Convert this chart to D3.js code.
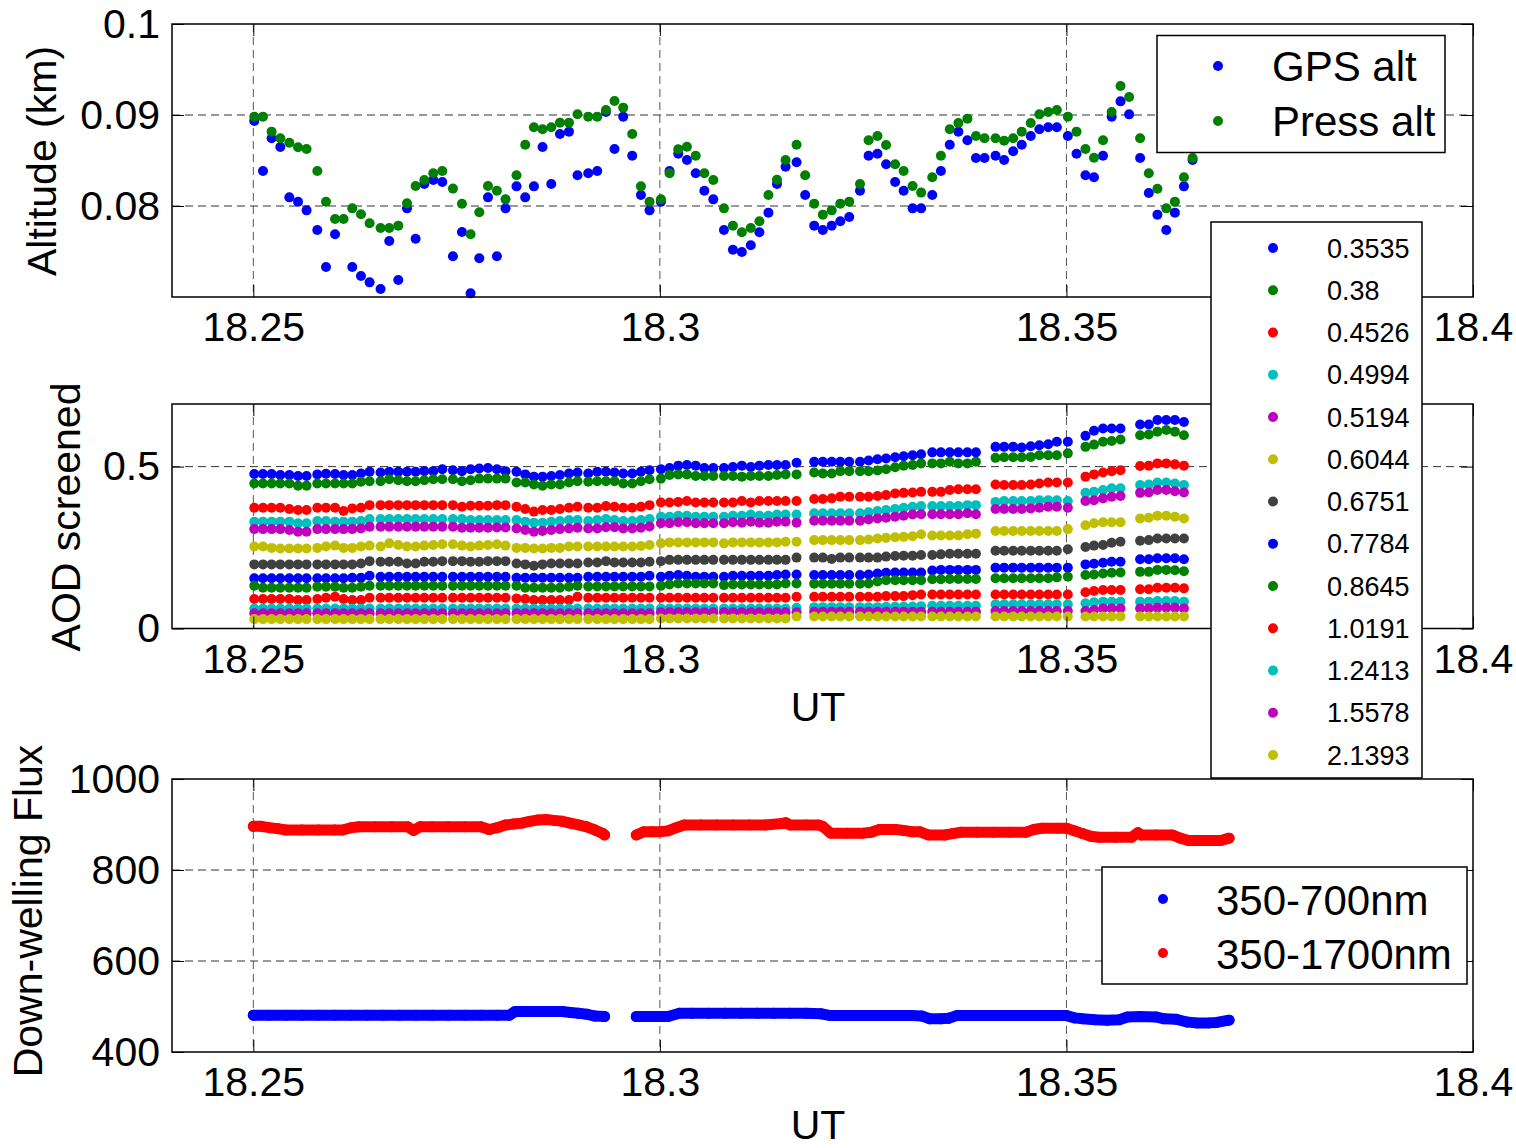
<!DOCTYPE html>
<html>
<head>
<meta charset="utf-8">
<script src="https://cdn.jsdelivr.net/npm/d3@7"></script>
<style>
  body { margin: 0; background: #fff; }
  svg { display: block; font-family: "Liberation Sans", Arial, Helvetica, sans-serif; }
</style>
</head>
<body>
<script>
// ---- data (UT in decimal hours) ----
const utTicks = [18.25, 18.3, 18.35, 18.4];
const altTicks = [0.08, 0.09, 0.1];
const aodTicks = [0, 0.5];
const fluxTicks = [400, 600, 800, 1000];

const utTimes = [
  18.25012, 18.25119, 18.25225, 18.25332, 18.25443, 18.25550, 18.25655,
  18.25787, 18.25894, 18.26005, 18.26110, 18.26217, 18.26324, 18.26430,
  18.26565, 18.26672, 18.26783, 18.26890, 18.26996, 18.27103, 18.27213, 18.27324,
  18.27455, 18.27566, 18.27672, 18.27779, 18.27886, 18.27996, 18.28102,
  18.28237, 18.28344, 18.28451, 18.28557, 18.28664, 18.28771, 18.28882, 18.28987,
  18.29119, 18.29230, 18.29337, 18.29442, 18.29549, 18.29660, 18.29767, 18.29873,
  18.30013, 18.30119, 18.30226, 18.30333, 18.30441, 18.30547, 18.30657,
  18.30788, 18.30898, 18.31008, 18.31118, 18.31224, 18.31335, 18.31440, 18.31546,
  18.31681, 18.31787, 18.31898, 18.32004, 18.32113, 18.32219, 18.32329,
  18.32461, 18.32567, 18.32676, 18.32782, 18.32893, 18.32998, 18.33108, 18.33213,
  18.33350, 18.33456, 18.33565, 18.33671, 18.33782, 18.33887, 18.33993,
  18.34128, 18.34234, 18.34345, 18.34450, 18.34561, 18.34667, 18.34776, 18.34882,
  18.35017, 18.35124, 18.35234, 18.35339, 18.35450, 18.35556, 18.35665, 18.35771,
  18.35906, 18.36013, 18.36119, 18.36228, 18.36334, 18.36445, 18.36551
];

const gpsAlt = [
  0.08934, 0.08385, 0.08744, 0.08648, 0.08095, 0.08047, 0.07952,
  0.07736, 0.07330, 0.07689, 0.06950, 0.07330, 0.07231, 0.07161,
  0.07088, 0.07615, 0.07187, 0.07974, 0.07641, 0.08242, 0.08286, 0.08264,
  0.07447, 0.07714, 0.07040, 0.07425, 0.08095, 0.07447, 0.07974,
  0.08216, 0.08095, 0.08216, 0.08648, 0.08242, 0.08791, 0.08817, 0.08337,
  0.08359, 0.08385, 0.09033, 0.08626, 0.08982, 0.08553, 0.08121, 0.07952,
  0.08047, 0.08385, 0.08575, 0.08505, 0.08359, 0.08168, 0.08073,
  0.07736, 0.07520, 0.07495, 0.07568, 0.07711, 0.07927, 0.08242, 0.08432,
  0.08480, 0.08121, 0.07784, 0.07736, 0.07784, 0.07832, 0.07879,
  0.08168, 0.08553, 0.08575, 0.08458, 0.08264, 0.08168, 0.07974, 0.07974,
  0.08121, 0.08385, 0.08674, 0.08817, 0.08722, 0.08527, 0.08527,
  0.08553, 0.08505, 0.08601, 0.08674, 0.08769, 0.08843, 0.08865, 0.08865,
  0.08769, 0.08575, 0.08337, 0.08315, 0.08553, 0.08982, 0.09150, 0.09007,
  0.08527, 0.08143, 0.07905, 0.07736, 0.07927, 0.08216, 0.08505
];

const pressAlt = [
  0.08982, 0.08982, 0.08817, 0.08744, 0.08696, 0.08645, 0.08626,
  0.08385, 0.08047, 0.07857, 0.07857, 0.07974, 0.07909, 0.07810,
  0.07758, 0.07758, 0.07784, 0.08029, 0.08220, 0.08286, 0.08359, 0.08385,
  0.08191, 0.08025, 0.07689, 0.07931, 0.08220, 0.08168, 0.08073,
  0.08337, 0.08674, 0.08865, 0.08843, 0.08865, 0.08916, 0.08916, 0.09008,
  0.08982, 0.08982, 0.09055, 0.09154, 0.09081, 0.08791, 0.08216, 0.08047,
  0.08073, 0.08359, 0.08623, 0.08652, 0.08553, 0.08359, 0.08286,
  0.07974, 0.07784, 0.07711, 0.07758, 0.07832, 0.08121, 0.08289, 0.08505,
  0.08674, 0.08337, 0.08026, 0.07905, 0.07952, 0.08026, 0.08048,
  0.08242, 0.08722, 0.08769, 0.08670, 0.08458, 0.08385, 0.08220, 0.08147,
  0.08315, 0.08553, 0.08843, 0.08912, 0.08960, 0.08769, 0.08744,
  0.08744, 0.08718, 0.08744, 0.08817, 0.08912, 0.09007, 0.09033, 0.09055,
  0.08982, 0.08817, 0.08626, 0.08531, 0.08722, 0.09033, 0.09319, 0.09198,
  0.08744, 0.08359, 0.08190, 0.07974, 0.08048, 0.08315, 0.08527
];

// AOD screened, one array per wavelength (null = screened out)
const aod3535 = [
  0.477,0.477,0.477,0.474,0.474,0.471,0.471,
  0.476,0.478,0.477,0.474,0.474,0.479,0.484,
  0.482,0.484,0.484,0.484,0.484,0.486,0.486,0.492,
  0.489,0.486,0.492,0.494,0.496,0.492,0.486,
  0.484,0.476,0.469,0.469,0.471,0.474,0.479,0.482,
  0.479,0.484,0.484,0.482,0.479,0.479,0.484,0.489,
  0.492,0.496,0.503,0.505,0.503,0.496,0.496,
  0.496,0.499,0.503,0.499,0.503,0.505,0.505,0.505,
  0.512,null,0.515,0.515,0.515,0.515,0.515,
  0.515,0.519,0.523,0.525,0.529,0.532,0.535,0.538,
  0.544,0.544,0.544,0.544,0.544,0.544,null,
  0.561,0.561,0.561,0.559,0.563,0.566,0.569,0.577,
  0.577,null,0.595,0.611,0.618,0.618,0.618,null,
  0.630,0.630,0.644,0.644,0.644,0.638,null
];
const aod3800 = [
  0.448,0.448,0.448,0.448,0.448,0.441,0.441,
  0.448,0.448,0.448,0.448,0.448,0.453,0.455,
  0.455,0.461,0.458,0.455,0.455,0.458,0.461,0.461,
  0.461,0.455,0.458,0.463,0.463,0.463,0.463,
  0.451,0.451,0.445,0.441,0.445,0.445,0.451,0.455,
  0.453,0.455,0.455,0.455,0.448,0.448,0.455,0.461,
  0.463,0.474,0.476,0.476,0.471,0.471,0.471,
  0.471,0.471,0.469,0.471,0.471,0.471,0.474,0.476,
  0.476,null,0.482,0.479,0.479,0.486,0.486,
  0.486,0.486,0.488,0.492,0.498,0.503,0.505,0.510,
  0.510,0.510,0.515,0.510,0.510,0.515,null,
  0.527,0.529,0.529,0.529,0.530,0.535,0.535,0.535,
  0.541,null,0.561,0.568,0.577,0.579,0.584,null,
  0.597,0.599,0.608,0.613,0.608,0.597,null
];
const aod4526 = [
  0.373,0.373,0.373,0.373,0.369,0.366,0.366,
  0.373,0.373,0.373,0.363,0.371,0.373,0.381,
  0.381,0.381,0.381,0.381,0.381,0.381,0.381,0.381,
  0.381,0.376,0.379,0.379,0.379,0.381,0.381,
  0.376,0.369,0.361,0.366,0.366,0.369,0.373,0.376,
  0.373,0.373,0.378,0.376,0.373,0.373,0.376,0.381,
  0.389,0.389,0.391,0.394,0.389,0.389,0.389,
  0.389,0.389,0.394,0.389,0.394,0.394,0.394,0.394,
  0.394,null,0.400,0.400,0.402,0.407,0.407,
  0.407,0.407,0.409,0.412,0.417,0.419,0.420,0.422,
  0.422,0.422,0.428,0.430,0.430,0.430,null,
  0.445,0.443,0.443,0.443,0.445,0.448,0.451,0.451,
  0.451,null,0.469,0.476,0.482,0.486,0.489,null,
  0.502,0.503,0.510,0.510,0.507,0.503,null
];
const aod4994 = [
  0.330,0.330,0.330,0.330,0.330,0.325,0.325,
  0.332,0.332,0.330,0.330,0.330,0.332,0.338,
  0.338,0.338,0.338,0.338,0.338,0.338,0.338,0.338,
  0.338,0.338,0.335,0.335,0.335,0.335,0.335,
  0.335,0.330,0.327,0.327,0.330,0.332,0.335,0.335,
  0.332,0.335,0.338,0.335,0.332,0.332,0.335,0.338,
  0.345,0.345,0.348,0.348,0.345,0.345,0.345,
  0.345,0.348,0.348,0.352,0.348,0.348,0.352,0.352,
  0.352,null,0.356,0.356,0.356,0.356,0.356,
  0.356,0.359,0.363,0.366,0.369,0.373,0.376,0.378,
  0.378,0.378,0.378,0.378,0.381,0.381,null,
  0.391,0.394,0.394,0.394,0.394,0.396,0.396,0.396,
  0.394,null,0.419,0.422,0.428,0.433,0.433,null,
  0.443,0.445,0.451,0.451,0.448,0.443,null
];
const aod5194 = [
  0.307,0.307,0.307,0.307,0.304,0.299,0.299,
  0.307,0.307,0.307,0.307,0.307,0.309,0.314,
  0.314,0.314,0.314,0.314,0.314,0.314,0.314,0.314,
  0.314,0.311,0.311,0.311,0.311,0.312,0.312,
  0.309,0.304,0.299,0.301,0.304,0.307,0.309,0.311,
  0.309,0.309,0.313,0.313,0.309,0.309,0.311,0.315,
  0.325,0.325,0.328,0.328,0.325,0.325,0.325,
  0.325,0.328,0.327,0.330,0.327,0.327,0.330,0.330,
  0.327,null,0.333,0.333,0.333,0.333,0.333,
  0.333,0.337,0.340,0.342,0.345,0.348,0.352,0.353,
  0.353,0.353,0.353,0.353,0.356,0.353,null,
  0.369,0.369,0.369,0.369,0.371,0.373,0.376,0.376,
  0.373,null,0.394,0.396,0.402,0.407,0.409,null,
  0.419,0.420,0.428,0.428,0.424,0.420,null
];
const aod6044 = [
  0.253,0.253,0.249,0.247,0.247,0.247,0.247,
  0.249,0.253,0.256,0.249,0.249,0.253,0.256,
  0.253,0.263,0.258,0.253,0.253,0.256,0.258,0.260,
  0.260,0.256,0.253,0.256,0.258,0.260,0.256,
  0.249,0.249,0.247,0.247,0.249,0.249,0.253,0.253,
  0.253,0.253,0.253,0.253,0.253,0.253,0.255,0.258,
  0.263,0.266,0.266,0.266,0.266,0.266,0.266,
  0.263,0.266,0.266,0.266,0.266,0.266,0.266,0.268,
  0.268,null,0.273,0.273,0.273,0.273,0.273,
  0.273,0.275,0.278,0.280,0.282,0.283,0.285,0.291,
  0.287,0.287,0.287,0.287,0.291,0.293,null,
  0.301,0.301,0.301,0.301,0.301,0.301,0.301,0.301,
  0.307,null,0.319,0.325,0.328,0.328,0.328,null,
  0.340,0.342,0.348,0.348,0.345,0.340,null
];
const aod6751 = [
  0.198,0.198,0.198,0.198,0.198,0.198,0.198,
  0.198,0.198,0.198,0.198,0.198,0.201,0.208,
  0.206,0.206,0.206,0.201,0.201,0.206,0.206,0.208,
  0.208,0.208,0.206,0.206,0.208,0.208,0.208,
  0.201,0.198,0.194,0.198,0.201,0.201,0.201,0.201,
  0.204,0.204,0.208,0.204,0.204,0.204,0.204,0.206,
  0.208,0.212,0.212,0.212,0.212,0.212,0.212,
  0.212,0.212,0.212,0.212,0.212,0.212,0.212,0.212,
  0.219,null,0.219,0.219,0.215,0.219,0.219,
  0.219,0.219,0.219,0.222,0.224,0.225,0.225,0.227,
  0.227,0.229,0.231,0.231,0.231,0.231,null,
  0.240,0.240,0.240,0.240,0.240,0.240,0.240,0.240,
  0.245,null,0.252,0.256,0.258,0.265,0.268,null,
  0.271,0.273,0.278,0.278,0.278,0.278,null
];
const aod7784 = [
  0.155,0.155,0.155,0.155,0.155,0.155,0.155,
  0.155,0.155,0.155,0.155,0.157,0.157,0.163,
  0.160,0.160,0.160,0.160,0.160,0.160,0.160,0.160,
  0.160,0.160,0.160,0.160,0.160,0.160,0.160,
  0.157,0.157,0.157,0.157,0.157,0.157,0.157,0.157,
  0.160,0.160,0.160,0.160,0.160,0.160,0.160,0.163,
  0.160,0.163,0.165,0.163,0.160,0.160,0.160,
  0.160,0.163,0.163,0.163,0.163,0.163,0.165,0.167,
  0.167,null,0.165,0.165,0.165,0.165,0.165,
  0.165,0.167,0.170,0.172,0.173,0.173,0.173,0.173,
  0.179,0.181,0.181,0.181,0.181,0.181,null,
  0.188,0.188,0.188,0.188,0.188,0.188,0.188,0.188,
  0.188,null,0.198,0.200,0.203,0.206,0.206,null,
  0.214,0.214,0.217,0.217,0.217,0.214,null
];
const aod8645 = [
  0.132,0.126,0.126,0.126,0.126,0.126,0.126,
  0.129,0.129,0.129,0.126,0.126,0.129,0.132,
  0.132,0.132,0.132,0.132,0.132,0.132,0.132,0.132,
  0.132,0.132,0.132,0.132,0.132,0.132,0.132,
  0.132,0.126,0.126,0.126,0.126,0.126,0.129,0.132,
  0.130,0.130,0.130,0.130,0.130,0.130,0.130,0.130,
  0.132,0.136,0.139,0.139,0.139,0.139,0.139,
  0.134,0.136,0.136,0.136,0.136,0.136,0.136,0.139,
  0.139,null,0.138,0.138,0.138,0.138,0.138,
  0.138,0.139,0.145,0.149,0.149,0.149,0.149,0.149,
  0.152,0.152,0.153,0.153,0.153,0.153,null,
  0.155,0.155,0.155,0.155,0.155,0.155,0.155,0.158,
  0.160,null,0.165,0.167,0.170,0.172,0.173,null,
  0.175,0.175,0.181,0.181,0.180,0.177,null
];
const aod10191 = [
  0.091,0.091,0.091,0.091,0.091,0.088,0.088,
  0.091,0.095,0.098,0.091,0.088,0.088,0.095,
  0.095,0.095,0.095,0.095,0.095,0.095,0.095,0.095,
  0.095,0.095,0.095,0.095,0.095,0.095,0.095,
  0.093,0.091,0.088,0.088,0.088,0.088,0.088,0.098,
  0.095,0.095,0.095,0.095,0.095,0.095,0.095,0.095,
  0.095,0.095,0.095,0.095,0.095,0.095,0.095,
  0.095,0.095,0.095,0.095,0.095,0.095,0.095,0.095,
  0.098,null,0.098,0.098,0.098,0.098,0.098,
  0.098,0.098,0.098,0.100,0.100,0.100,0.103,0.105,
  0.105,0.105,0.105,0.105,0.105,0.105,null,
  0.105,0.105,0.105,0.105,0.105,0.105,0.105,0.105,
  0.105,null,0.112,0.116,0.119,0.119,0.119,null,
  0.121,0.121,0.126,0.126,0.126,0.124,null
];
const aod12413 = [
  0.062,0.062,0.062,0.062,0.062,0.062,0.062,
  0.062,0.062,0.062,0.062,0.062,0.062,0.062,
  0.062,0.062,0.062,0.062,0.062,0.062,0.062,0.062,
  0.062,0.062,0.062,0.062,0.062,0.062,0.062,
  0.062,0.062,0.062,0.062,0.062,0.062,0.062,0.062,
  0.062,0.062,0.062,0.062,0.062,0.062,0.062,0.062,
  0.062,0.062,0.062,0.062,0.062,0.062,0.062,
  0.062,0.062,0.062,0.062,0.062,0.062,0.062,0.062,
  0.064,null,0.066,0.066,0.066,0.066,0.066,
  0.066,0.066,0.066,0.067,0.067,0.068,0.068,0.069,
  0.070,0.070,0.070,0.070,0.070,0.070,null,
  0.075,0.075,0.075,0.075,0.075,0.075,0.075,0.075,
  0.075,null,0.078,0.081,0.083,0.083,0.083,null,
  0.083,0.083,0.085,0.085,0.085,0.083,null
];
const aod15578 = [
  0.047,0.047,0.047,0.047,0.047,0.047,0.047,
  0.047,0.047,0.047,0.047,0.047,0.047,0.047,
  0.047,0.047,0.047,0.047,0.047,0.047,0.047,0.047,
  0.047,0.047,0.047,0.047,0.047,0.047,0.047,
  0.047,0.047,0.047,0.047,0.047,0.047,0.047,0.047,
  0.047,0.047,0.047,0.047,0.047,0.047,0.047,0.047,
  0.050,0.050,0.050,0.050,0.050,0.050,0.050,
  0.050,0.050,0.050,0.050,0.050,0.050,0.050,0.050,
  0.050,null,0.052,0.052,0.052,0.052,0.052,
  0.052,0.052,0.052,0.052,0.052,0.052,0.052,0.052,
  0.052,0.052,0.052,0.052,0.052,0.052,null,
  0.054,0.054,0.054,0.054,0.054,0.054,0.054,0.054,
  0.054,null,0.054,0.057,0.062,0.062,0.062,null,
  0.062,0.062,0.064,0.064,0.064,0.062,null
];
const aod21393 = [
  0.029,0.029,0.029,0.029,0.029,0.029,0.029,
  0.029,0.029,0.029,0.029,0.029,0.029,0.029,
  0.029,0.029,0.029,0.029,0.029,0.029,0.029,0.029,
  0.029,0.029,0.029,0.029,0.029,0.029,0.029,
  0.029,0.029,0.029,0.029,0.029,0.029,0.029,0.029,
  0.029,0.029,0.029,0.029,0.029,0.029,0.029,0.029,
  0.031,0.031,0.031,0.031,0.031,0.031,0.031,
  0.031,0.031,0.031,0.031,0.031,0.031,0.031,0.031,
  0.037,null,0.037,0.037,0.037,0.037,0.037,
  0.037,0.037,0.037,0.037,0.037,0.037,0.037,0.037,
  0.037,0.037,0.037,0.037,0.037,0.037,null,
  0.037,0.037,0.037,0.037,0.037,0.037,0.037,0.037,
  0.037,null,0.037,0.037,0.037,0.037,0.037,null,
  0.037,0.037,0.037,0.037,0.037,0.037,null
];

const wavelengths = ["0.3535", "0.38", "0.4526", "0.4994", "0.5194", "0.6044", "0.6751",
                     "0.7784", "0.8645", "1.0191", "1.2413", "1.5578", "2.1393"];
const aodSeries = [aod3535, aod3800, aod4526, aod4994, aod5194, aod6044, aod6751,
                   aod7784, aod8645, aod10191, aod12413, aod15578, aod21393];

// down-welling flux [UT, W/m2]; null marks the data gap
const flux700 = [
  [18.2500,481],[18.2520,481],[18.2540,481],[18.2560,481],[18.2580,481],[18.2600,481],
  [18.2620,481],[18.2640,481],[18.2660,481],[18.2680,481],[18.2700,481],[18.2720,481],
  [18.2740,481],[18.2760,481],[18.2780,481],[18.2800,481],[18.2815,481],[18.2822,489],
  [18.2840,489],[18.2860,489],[18.2880,489],[18.2890,487],[18.2900,485],[18.2910,483],
  [18.2920,479],[18.2932,478],
  null,
  [18.2971,478],[18.2990,478],[18.3010,478],[18.3024,485],[18.3040,485],[18.3060,485],
  [18.3080,485],[18.3100,485],[18.3120,485],[18.3140,485],[18.3160,485],[18.3180,485],
  [18.3198,484],[18.3210,480],[18.3230,480],[18.3250,480],[18.3270,480],[18.3290,480],
  [18.3310,480],[18.3322,479],[18.3332,473],[18.3345,473],[18.3355,474],[18.3365,480],
  [18.3380,480],[18.3400,480],[18.3420,480],[18.3440,480],[18.3460,480],[18.3480,480],
  [18.3500,480],[18.3510,475],[18.3520,473],[18.3535,471],[18.3550,470],[18.3565,471],
  [18.3575,477],[18.3590,478],[18.3610,477],[18.3620,473],[18.3635,472],[18.3648,466],
  [18.3660,464],[18.3675,464],[18.3685,465],[18.3700,470]
];
const flux1700 = [
  [18.2500,896],[18.2510,896],[18.2520,893],[18.2530,891],[18.2540,888],[18.2560,888],
  [18.2580,888],[18.2600,888],[18.2610,888],[18.2620,893],[18.2630,895],[18.2650,895],
  [18.2670,895],[18.2690,895],[18.2697,887],[18.2705,895],[18.2720,895],[18.2740,895],
  [18.2760,895],[18.2780,895],[18.2790,889],[18.2800,893],[18.2810,899],[18.2820,901],
  [18.2830,903],[18.2840,907],[18.2850,910],[18.2860,911],[18.2870,909],[18.2880,907],
  [18.2890,903],[18.2900,899],[18.2910,895],[18.2920,888],[18.2930,880],[18.2932,877],
  null,
  [18.2971,877],[18.2980,884],[18.2990,884],[18.3000,884],[18.3010,886],[18.3020,893],
  [18.3030,899],[18.3050,899],[18.3070,899],[18.3090,899],[18.3110,899],[18.3130,899],
  [18.3150,902],[18.3155,904],[18.3160,899],[18.3180,899],[18.3195,899],[18.3200,896],
  [18.3210,881],[18.3230,881],[18.3250,881],[18.3260,883],[18.3270,889],[18.3290,889],
  [18.3300,887],[18.3310,884],[18.3320,884],[18.3330,877],[18.3350,877],[18.3360,880],
  [18.3370,883],[18.3390,883],[18.3410,883],[18.3430,883],[18.3450,883],[18.3460,889],
  [18.3470,892],[18.3490,892],[18.3500,892],[18.3510,886],[18.3520,880],[18.3530,874],
  [18.3540,872],[18.3560,872],[18.3580,872],[18.3588,882],[18.3592,877],[18.3610,877],
  [18.3630,877],[18.3640,870],[18.3650,865],[18.3670,865],[18.3690,865],[18.3700,870]
];

// ---- layout ----
const w = 1516;
const h = 1148;
const xLeft = 172;
const xRight = 1473;
const dotR = 5;
const tickFont = 41;
const labelFont = 41;
const legendFont = 42;

// MATLAB default line colours
const matBlue = "#0000ff", matGreen = "#008000", matRed = "#ff0000", matCyan = "#00bfbf",
      matMagenta = "#bf00bf", matYellow = "#bfbf00", matGray = "#404040";
const aodColors = [matBlue, matGreen, matRed, matCyan, matMagenta, matYellow, matGray,
                   matBlue, matGreen, matRed, matCyan, matMagenta, matYellow];

const svg = d3.select("body")
  .append("svg")
  .attr("width", w)
  .attr("height", h);

const xScale = d3.scaleLinear()
  .domain([18.24, 18.4])
  .range([xLeft, xRight]);

// grid + empty data layer for one subplot
function makePanel(top, bottom, yDomain, yTicks) {
  const yScale = d3.scaleLinear().domain(yDomain).range([bottom, top]);
  const g = svg.append("g");

  g.append("g").selectAll("line")
    .data(utTicks.filter(d => d < 18.4))
    .enter().append("line")
    .attr("x1", d => xScale(d)).attr("x2", d => xScale(d))
    .attr("y1", top).attr("y2", bottom)
    .attr("stroke", "#555").attr("stroke-width", 1)
    .attr("stroke-dasharray", "8,5");

  g.append("g").selectAll("line")
    .data(yTicks.filter(d => yScale(d) > top + 1 && yScale(d) < bottom - 1))
    .enter().append("line")
    .attr("x1", xLeft).attr("x2", xRight)
    .attr("y1", d => yScale(d)).attr("y2", d => yScale(d))
    .attr("stroke", "#333").attr("stroke-width", 1)
    .attr("stroke-dasharray", "8,5");

  const data = svg.append("g");
  return { top, bottom, yScale, yTicks, data };
}

// ticks, tick labels and the box, drawn over the data
function finishPanel(p) {
  const styleText = sel => sel.selectAll("text")
    .style("font-size", tickFont + "px")
    .style("font-family", '"Liberation Sans", Arial, sans-serif')
    .attr("fill", "#000");

  const xAxis = svg.append("g")
    .attr("transform", `translate(0, ${p.bottom})`)
    .call(d3.axisBottom(xScale).tickValues(utTicks).tickSizeInner(-12)
      .tickSizeOuter(0).tickPadding(15).tickFormat(d => String(d)));
  xAxis.select(".domain").remove();
  styleText(xAxis);

  const xTop = svg.append("g")
    .attr("transform", `translate(0, ${p.top})`)
    .call(d3.axisTop(xScale).tickValues(utTicks).tickSizeInner(-12)
      .tickSizeOuter(0).tickFormat(""));
  xTop.select(".domain").remove();

  const yAxis = svg.append("g")
    .attr("transform", `translate(${xLeft}, 0)`)
    .call(d3.axisLeft(p.yScale).tickValues(p.yTicks).tickSizeInner(-12)
      .tickSizeOuter(0).tickPadding(12).tickFormat(d => String(d)));
  yAxis.select(".domain").remove();
  styleText(yAxis);

  const yRight = svg.append("g")
    .attr("transform", `translate(${xRight}, 0)`)
    .call(d3.axisRight(p.yScale).tickValues(p.yTicks).tickSizeInner(-12)
      .tickSizeOuter(0).tickFormat(""));
  yRight.select(".domain").remove();

  svg.append("rect")
    .attr("x", xLeft).attr("y", p.top)
    .attr("width", xRight - xLeft).attr("height", p.bottom - p.top)
    .attr("fill", "none").attr("stroke", "#000").attr("stroke-width", 1.5);
}

function yLabel(text, x, y) {
  svg.append("text")
    .attr("transform", `translate(${x}, ${y}) rotate(-90)`)
    .attr("text-anchor", "middle")
    .style("font-size", labelFont + "px")
    .text(text);
}

function xLabel(y) {
  svg.append("text")
    .attr("x", 818).attr("y", y)
    .attr("text-anchor", "middle")
    .style("font-size", labelFont + "px")
    .text("UT");
}

// ---- panel 1: altitude ----
const p1 = makePanel(24, 297, [0.07, 0.1], altTicks);
[[gpsAlt, matBlue], [pressAlt, matGreen]].forEach(([vals, color]) => {
  p1.data.selectAll(null)
    .data(utTimes.map((t, i) => ({ t, v: vals[i] })).filter(d => d.v >= 0.07))
    .enter().append("circle")
    .attr("cx", d => xScale(d.t))
    .attr("cy", d => p1.yScale(d.v))
    .attr("r", dotR)
    .attr("fill", color);
});
finishPanel(p1);
yLabel("Altitude (km)", 56, 161);

// ---- panel 2: AOD ----
const p2 = makePanel(404, 628.5, [0, 0.6934], aodTicks);
aodSeries.forEach((vals, k) => {
  p2.data.selectAll(null)
    .data(utTimes.map((t, i) => ({ t, v: vals[i] })).filter(d => d.v !== null))
    .enter().append("circle")
    .attr("cx", d => xScale(d.t))
    .attr("cy", d => p2.yScale(d.v))
    .attr("r", dotR)
    .attr("fill", aodColors[k]);
});
finishPanel(p2);
yLabel("AOD screened", 80, 517);
xLabel(721);

// ---- panel 3: flux ----
const p3 = makePanel(779, 1052, [400, 1000], fluxTicks);
const fluxLine = d3.line()
  .defined(d => d !== null)
  .x(d => xScale(d[0]))
  .y(d => p3.yScale(d[1]));
[[flux700, matBlue], [flux1700, matRed]].forEach(([pts, color]) => {
  p3.data.append("path")
    .attr("d", fluxLine(pts))
    .attr("fill", "none")
    .attr("stroke", color)
    .attr("stroke-width", 11)
    .attr("stroke-linecap", "round")
    .attr("stroke-linejoin", "round");
  p3.data.selectAll(null)
    .data(pts.filter(d => d !== null))
    .enter().append("circle")
    .attr("cx", d => xScale(d[0]))
    .attr("cy", d => p3.yScale(d[1]))
    .attr("r", 5.5)
    .attr("fill", color);
});
finishPanel(p3);
yLabel("Down-welling Flux", 42, 911);
xLabel(1139);

// ---- legends ----
function legendBox(x, y, bw, bh) {
  svg.append("rect")
    .attr("x", x).attr("y", y).attr("width", bw).attr("height", bh)
    .attr("fill", "#fff").attr("stroke", "#000").attr("stroke-width", 1.5);
}

legendBox(1157, 35.5, 288, 117);
const altLegend = svg.append("g").selectAll("g")
  .data([{ color: matBlue, label: "GPS alt" }, { color: matGreen, label: "Press alt" }])
  .enter().append("g")
  .attr("transform", (d, i) => `translate(0, ${66 + i * 55})`);
altLegend.append("circle").attr("cx", 1218).attr("cy", 0).attr("r", dotR).attr("fill", d => d.color);
altLegend.append("text").attr("x", 1272).attr("y", 15)
  .style("font-size", legendFont + "px").text(d => d.label);

legendBox(1211, 222, 211, 556);
const aodLegend = svg.append("g").selectAll("g")
  .data(wavelengths)
  .enter().append("g")
  .attr("transform", (d, i) => `translate(0, ${248 + i * 42.25})`);
aodLegend.append("circle").attr("cx", 1273).attr("cy", 0).attr("r", dotR)
  .attr("fill", (d, i) => aodColors[i]);
aodLegend.append("text").attr("x", 1327).attr("y", 9.5)
  .style("font-size", "27px").text(d => d);

legendBox(1102, 867, 365, 117);
const fluxLegend = svg.append("g").selectAll("g")
  .data([{ color: matBlue, label: "350-700nm" }, { color: matRed, label: "350-1700nm" }])
  .enter().append("g")
  .attr("transform", (d, i) => `translate(0, ${899 + i * 54})`);
fluxLegend.append("circle").attr("cx", 1163).attr("cy", 0).attr("r", dotR).attr("fill", d => d.color);
fluxLegend.append("text").attr("x", 1216).attr("y", 16)
  .style("font-size", legendFont + "px").text(d => d.label);
</script>
</body>
</html>
